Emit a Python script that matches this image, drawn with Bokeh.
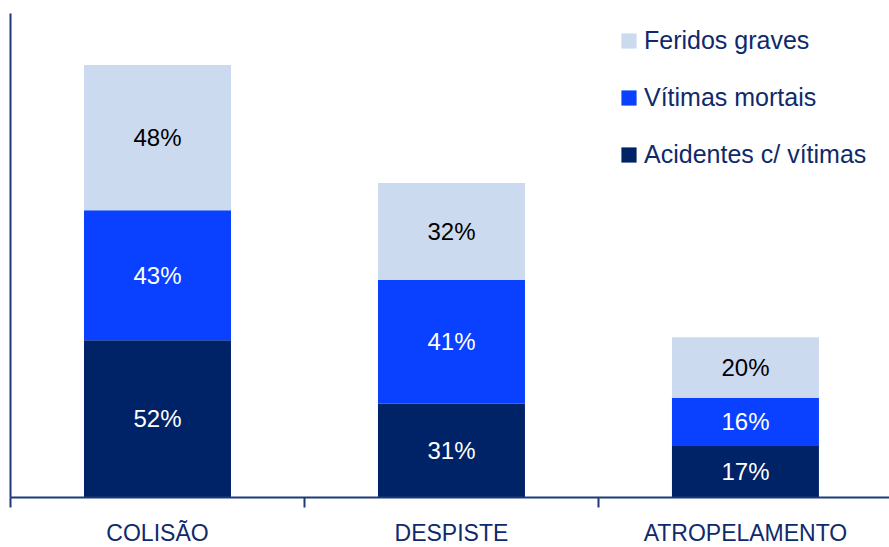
from bokeh.plotting import figure
from bokeh.models import ColumnDataSource, FixedTicker, Legend, LegendItem
from bokeh.core.properties import value
from bokeh.embed import file_html
from bokeh.resources import INLINE

categories = ["COLISÃO", "DESPISTE", "ATROPELAMENTO"]
acidentes = [52, 31, 17]
vitimas = [43, 41, 16]
feridos = [48, 32, 20]
series_names = ["Acidentes c/ vítimas", "Vítimas mortais", "Feridos graves"]

colors = ["#002266", "#0A40FF", "#CCDAF0"]
label_colors = ["#FFFFFF", "#FFFFFF", "#000000"]
navy = "#1F3A7A"
FONT = "Liberation Sans"

x = [i + 0.5 for i in range(len(categories))]
src = ColumnDataSource(dict(x=x, acc=acidentes, vit=vitimas, fer=feridos))

p = figure(frame_width=879, frame_height=484, x_range=(0, 2.99), y_range=(0, 160),
           output_backend="svg", toolbar_location=None,
           min_border_left=10, min_border_top=13, min_border_right=0, min_border_bottom=0)
p.grid.visible = False
p.outline_line_color = None
p.background_fill_color = "white"

renderers = p.vbar_stack(["acc", "vit", "fer"], x="x", width=0.5, color=colors,
                         line_color=None, source=src)

# segment labels
series = [acidentes, vitimas, feridos]
bottoms = [0] * len(categories)
for s, tc in zip(series, label_colors):
    ys = [b + v / 2 for b, v in zip(bottoms, s)]
    lsrc = ColumnDataSource(dict(x=x, y=ys, t=[f"{v}%" for v in s]))
    p.text(x="x", y="y", text="t", source=lsrc, text_align="center", text_baseline="middle",
           text_font=value(FONT), text_font_size="24px", text_color=tc)
    bottoms = [b + v for b, v in zip(bottoms, s)]

# x axis: boundary ticks (minor), labels at centers
xa = p.xaxis[0]
xa.ticker = FixedTicker(ticks=x, minor_ticks=list(range(len(categories) + 1)))
xa.major_label_overrides = {xi: c for xi, c in zip(x, categories)}
xa.major_tick_line_color = None
xa.major_tick_out = 0
xa.major_tick_in = 0
xa.minor_tick_in = 0
xa.minor_tick_out = 10
xa.minor_tick_line_color = navy
xa.minor_tick_line_width = 2
xa.axis_line_color = navy
xa.axis_line_width = 2
xa.major_label_standoff = 12
xa.major_label_text_font = FONT
xa.major_label_text_font_size = "23px"
xa.major_label_text_color = "#0F2A6B"

ya = p.yaxis[0]
ya.ticker = FixedTicker(ticks=[])
ya.major_tick_out = 0
ya.major_tick_in = 0
ya.minor_tick_out = 0
ya.minor_tick_in = 0
ya.major_label_standoff = 0
ya.major_label_text_font_size = "0px"
ya.axis_line_color = navy
ya.axis_line_width = 2

items = [LegendItem(label=series_names[i], renderers=[renderers[i]]) for i in (2, 1, 0)]
legend = Legend(items=items, location=(609, 328), glyph_width=19, glyph_height=19,
                label_height=28, label_standoff=6, spacing=28, padding=0, margin=0,
                border_line_color=None, background_fill_alpha=0,
                label_text_font=FONT, label_text_font_size="25px", label_text_color="#0F2A6B")
p.add_layout(legend)

open("out.html", "w").write(file_html(p, INLINE))
